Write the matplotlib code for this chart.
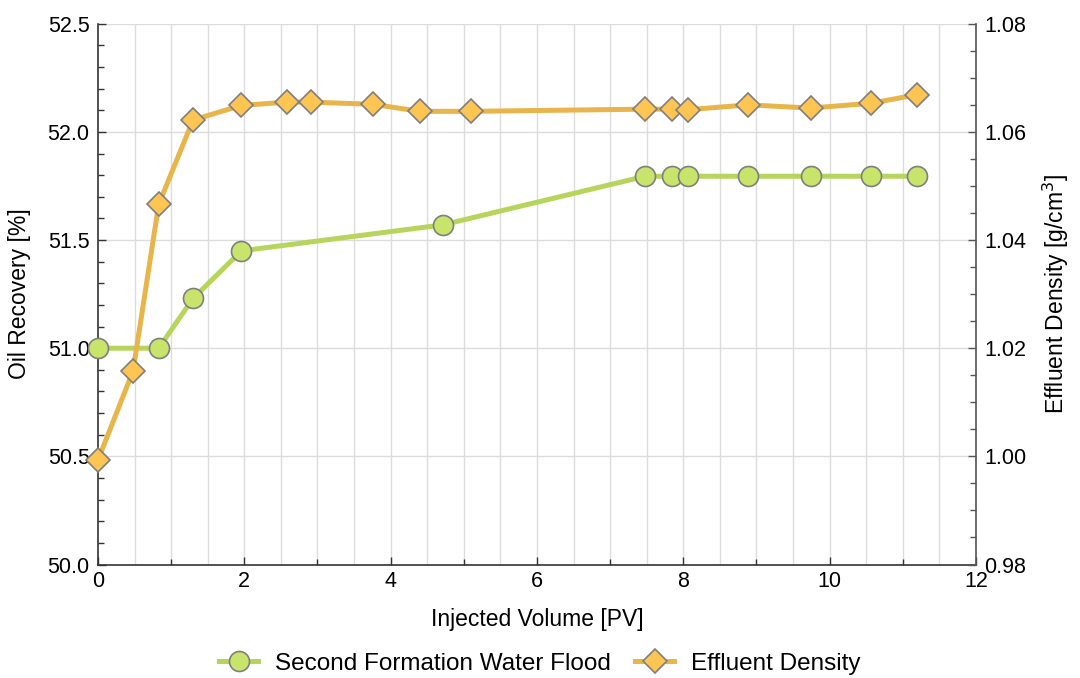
import matplotlib
matplotlib.use("Agg")
import matplotlib.pyplot as plt
from matplotlib.ticker import MultipleLocator

plt.rcParams['font.family'] = ['Liberation Sans', 'DejaVu Sans']

# Second formation water flood: oil recovery [%]
flood_pv = [0.0, 0.83, 1.30, 1.96, 4.71, 7.48, 7.85, 8.06, 8.89, 9.74, 10.57, 11.20]
flood_recovery = [51.0, 51.0, 51.23, 51.45, 51.57, 51.795, 51.795, 51.795, 51.795, 51.795, 51.795, 51.795]

# Effluent density [g/cm3]
dens_pv = [0.0, 0.48, 0.83, 1.30, 1.96, 2.59, 2.91, 3.76, 4.40, 5.10, 7.48, 7.85, 8.06, 8.89, 9.74, 10.57, 11.20]
dens_values = [0.9993, 1.0158, 1.0466, 1.0622, 1.0649, 1.0655, 1.0655, 1.0651, 1.0638,
               1.0638, 1.0642, 1.0642, 1.0641, 1.0650, 1.0644, 1.0653, 1.0669]

green_line = '#b7d55c'
green_face = '#c9e46a'
orange_line = '#e8b54a'
orange_face = '#fec553'
edge = '#7f7f7f'

fig = plt.figure(figsize=(10.8, 6.78), dpi=100)
ax = fig.add_axes([0.0907, 0.1674, 0.8130, 0.7976])
ax2 = ax.twinx()

ax.set_xlim(0, 12)
ax.set_ylim(50.0, 52.5)
ax2.set_ylim(0.98, 1.08)

# grid: vertical every 0.5, horizontal at left major ticks
for gx in [i * 0.5 for i in range(1, 25)]:
    ax.axvline(gx, color='#dcdcdc', lw=1.0, zorder=0)
for gy in [50.5, 51.0, 51.5, 52.0, 52.5]:
    ax.axhline(gy, color='#dcdcdc', lw=1.0, zorder=0)

l1, = ax.plot(flood_pv, flood_recovery, color=green_line, lw=3.6, marker='o', ms=14.4,
              mfc=green_face, mec=edge, mew=1.2, zorder=3, clip_on=False,
              label='Second Formation Water Flood')
l2, = ax2.plot(dens_pv, dens_values, color=orange_line, lw=3.6, marker='D', ms=11.8,
               mfc=orange_face, mec=edge, mew=1.2, zorder=3, clip_on=False,
               label='Effluent Density')

ax.set_zorder(ax2.get_zorder() - 1)
ax.patch.set_visible(True)
ax2.patch.set_visible(False)

for a in (ax, ax2):
    a.spines['top'].set_visible(False)
    for s in a.spines.values():
        s.set_linewidth(1.2)
        s.set_color('#333333')
ax.spines['right'].set_visible(False)
ax2.spines['left'].set_visible(False)
ax2.spines['bottom'].set_visible(False)
ax2.spines['right'].set_color('#555555')

ax.xaxis.set_major_locator(MultipleLocator(2))
ax.xaxis.set_minor_locator(MultipleLocator(1))
ax.yaxis.set_major_locator(MultipleLocator(0.5))
ax.yaxis.set_minor_locator(MultipleLocator(0.1))
ax2.yaxis.set_major_locator(MultipleLocator(0.02))
ax2.yaxis.set_minor_locator(MultipleLocator(0.005))

ax.tick_params(axis='both', which='major', direction='in', length=6, width=1.0,
               labelsize=15.5, color='#333333', pad=6)
ax.tick_params(axis='both', which='minor', direction='in', length=4, width=1.0, color='#333333')
ax.tick_params(axis='x', which='major', pad=5)
ax2.tick_params(axis='y', which='major', direction='in', length=6, width=1.0,
                labelsize=15.5, color='#555555', pad=6)
ax2.tick_params(axis='y', which='minor', direction='in', length=4, width=1.0, color='#555555')

ax.yaxis.set_major_formatter(plt.FuncFormatter(lambda v, p: f'{v:.1f}'))
ax2.yaxis.set_major_formatter(plt.FuncFormatter(lambda v, p: f'{v:.2f}'))

ax.set_xlabel('Injected Volume [PV]', fontsize=16.5, labelpad=11)
ax.set_ylabel('Oil Recovery [%]', fontsize=16.5, labelpad=12)
ax2.set_ylabel('Effluent Density [g/cm$^3$]', fontsize=16.5, labelpad=10)

fig.legend(handles=[l1, l2], loc='center', bbox_to_anchor=(0.5, 0.021), ncol=2,
           frameon=False, fontsize=17.5, handlelength=1.6, columnspacing=1.0,
           handletextpad=0.7)

fig.savefig('out.png', dpi=100)
